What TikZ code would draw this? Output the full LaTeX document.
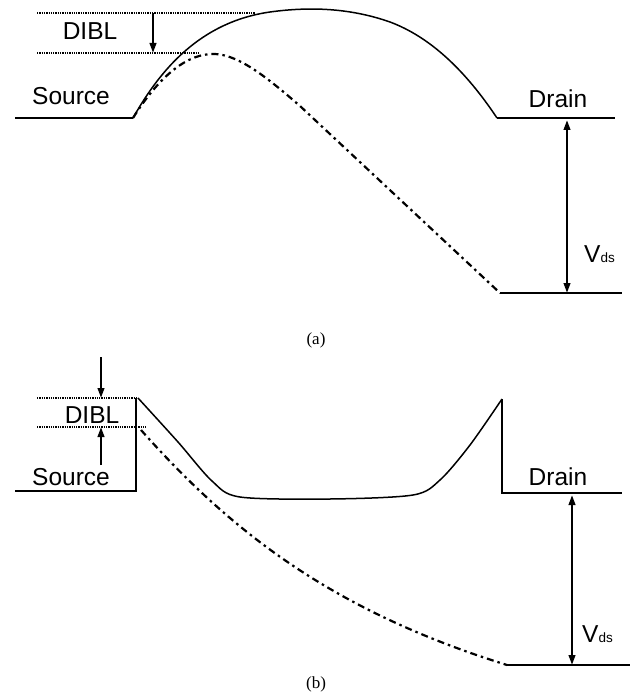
\documentclass[tikz,border=0pt]{standalone}
\usepackage{fontspec}
\setmainfont{Liberation Sans}
\newfontfamily\capfont{Liberation Serif}
\usetikzlibrary{arrows.meta}
\begin{document}
\begin{tikzpicture}[x=1pt,y=-1pt,
  band/.style={line width=1.5pt},
  dd/.style={line width=2.2pt,dash pattern=on 7pt off 4pt on 2.5pt off 4pt},
  lvl/.style={line width=1.3pt,dash pattern=on 1.3pt off 1pt},
  dim/.style={line width=2.3pt},
  tip/.style={-{Triangle[length=10pt,width=6.5pt]}},
  both/.style={{Triangle[length=10pt,width=6.5pt]}-{Triangle[length=10pt,width=6.5pt]}},
  lbl/.style={font=\fontsize{24.5}{27}\selectfont,anchor=base,inner sep=0pt},
  captxt/.style={font=\capfont\fontsize{17}{19}\selectfont,inner sep=0pt}]
\useasboundingbox (0,0) rectangle (632,700);
% ---------------- (a) ----------------
\draw[lvl] (37,13) -- (255,13);
\draw[lvl] (37,53) -- (200,53);
\draw[band] (15,118) -- (133,118);
\draw[band] (497,118) -- (615,118);
\draw[band] (133,118) .. controls (160,70) and (200,22) .. (270,12)
  .. controls (310,6.5) and (350,8) .. (390,22)
  .. controls (430,37) and (465,70) .. (497,118);
\draw[dd] (133,118) .. controls (160,75) and (188,53) .. (215,54) .. controls (240,55) and (270,80) .. (300,106) -- (500,293);
\draw[band] (500,293) -- (622,293);
\draw[dim,tip] (153,13) -- (153,53);
\draw[dim,both] (567,120) -- (567,293);
\node[lbl] (dibla) at (90,40) {DIBL};
\node[lbl] (srca) at (71,105) {Source};
\node[lbl] (drna) at (558,108) {Drain};
\node[lbl,anchor=base west] (vdsa) at (584,262) {V{\fontsize{13.5}{14}\selectfont ds}};
\node[captxt] (capa) at (316,340) {(a)};
% ---------------- (b) ----------------
\draw[lvl] (37,398) -- (138,398);
\draw[lvl] (37,427) -- (146,427);
\draw[band] (15,491) -- (136,491) -- (136,398);
\draw[band] plot[smooth,tension=0.5] coordinates {(138,398) (178,442) (212,481) (240,497) (330,499) (413,495) (440,480) (470,445) (502,399)};
\draw[band] (502,399) -- (502,493) -- (622,493);
\draw[dd] (141,430) .. controls (230,530) and (330,610) .. (507,665);
\draw[band] (507,665) -- (630,665);
\draw[dim,tip] (101,357) -- (101,398);
\draw[dim,tip] (101,465) -- (101,427);
\draw[dim,both] (572,495) -- (572,665);
\node[lbl] (diblb) at (92,423) {DIBL};
\node[lbl] (srcb) at (71,485) {Source};
\node[lbl] (drnb) at (558,485) {Drain};
\node[lbl,anchor=base west] (vdsb) at (582,642) {V{\fontsize{13.5}{14}\selectfont ds}};
\node[captxt] (capb) at (316,684) {(b)};
\end{tikzpicture}
\end{document}
